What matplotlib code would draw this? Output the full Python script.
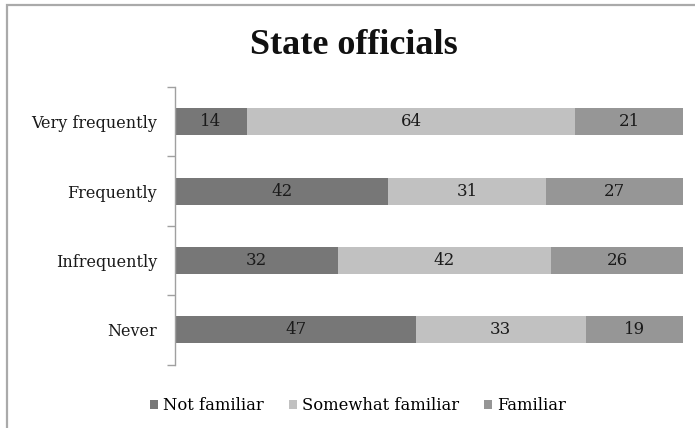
import numpy as np
import matplotlib
matplotlib.use("Agg")
import matplotlib.pyplot as plt
from matplotlib.patches import Rectangle

# Data
categories = ["Very frequently", "Frequently", "Infrequently", "Never"]
not_familiar = [14, 42, 32, 47]
somewhat_familiar = [64, 31, 42, 33]
familiar = [21, 27, 26, 19]

series_names = ["Not familiar", "Somewhat familiar", "Familiar"]
colors = ["#777777", "#c1c1c1", "#969696"]

plt.rcParams["font.family"] = ["DejaVu Serif"]

fig = plt.figure(figsize=(6.95, 4.28), dpi=100)
ax = fig.add_axes([175 / 695, 63.5 / 428, 508 / 695, 277.5 / 428])

data = np.array([not_familiar, somewhat_familiar, familiar], dtype=float)
totals = data.sum(axis=0)
pct = data / totals * 100  # 100% stacked

y = np.arange(len(categories))
left = np.zeros(len(categories))
for i, name in enumerate(series_names):
    bars = ax.barh(y, pct[i], left=left, height=0.39, color=colors[i],
                   label=name, edgecolor="none")
    for j, b in enumerate(bars):
        ax.text(left[j] + pct[i][j] / 2, y[j], str(int(data[i][j])),
                ha="center", va="center", fontsize=12, color="#1a1a1a")
    left += pct[i]

ax.set_xlim(0, 100)
ax.set_ylim(len(categories) - 0.5, -0.5)
ax.set_yticks(y)
ax.set_yticklabels(categories, fontsize=11.5, color="#1a1a1a")
ax.set_yticks(np.arange(-0.5, len(categories), 1), minor=True)
ax.tick_params(axis="y", which="major", length=0, pad=13)
ax.tick_params(axis="y", which="minor", length=6, color="#a0a0a0", width=1)
ax.set_xticks([])
for s in ["top", "right", "bottom"]:
    ax.spines[s].set_visible(False)
ax.spines["left"].set_color("#a0a0a0")
ax.spines["left"].set_linewidth(1)

fig.text(354 / 695, 1 - 46 / 428, "State officials", ha="center", va="center",
         fontsize=26, fontweight="bold", color="#111111",
         family="Liberation Serif")

fig.legend(loc="center", bbox_to_anchor=(0.515, 1 - 406 / 428), ncol=3,
           frameon=False, fontsize=11.8, handlelength=0.5, handleheight=0.5,
           handletextpad=0.3, columnspacing=1.5)

# chart border
fig.patches.append(Rectangle((7 / 695, -0.1), 2, 1.1 - 4.5 / 428,
                             transform=fig.transFigure, fill=False,
                             edgecolor="#aaaaaa", linewidth=1.6))

fig.savefig("out.png", dpi=100)
